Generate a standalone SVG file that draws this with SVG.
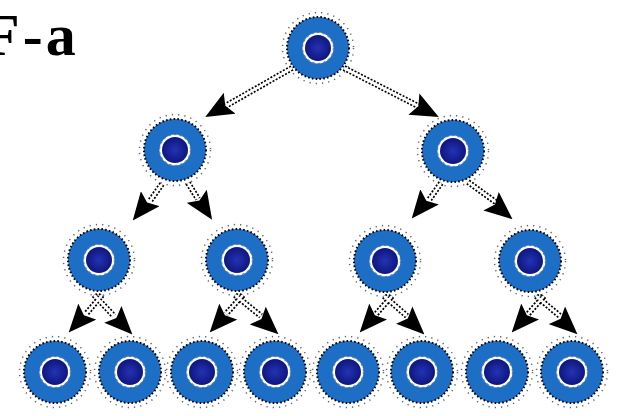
<svg xmlns="http://www.w3.org/2000/svg" width="617" height="416" viewBox="0 0 617 416">
  <style>
    .label { font-family: "Liberation Serif", "Times New Roman", serif; font-weight: bold; font-size: 60px; letter-spacing: 3px; fill: #000; }
    .shaft-edge { fill: none; stroke: #000; stroke-width: 6; stroke-dasharray: 2 1.6; }
    .shaft-core { fill: none; stroke: #fff; stroke-width: 2.6; }
    .shaft-tip { fill: none; stroke: none; marker-end: url(#head); }
  </style>
  <defs>
    <radialGradient id="coreFill" cx="0.5" cy="0.5" r="0.5">
      <stop offset="0" stop-color="#2433b4"/>
      <stop offset="1" stop-color="#0e167e"/>
    </radialGradient>
    <marker id="head" viewBox="0 0 28 24" refX="26" refY="12" markerWidth="28" markerHeight="24" markerUnits="userSpaceOnUse" orient="auto">
      <path d="M0,0 L28,12 L0,24 L5,12 z" fill="#000"/>
    </marker>
    <!-- one cell: speckled halo, blue ring, white ring, dark nucleus -->
    <g id="cell">
      <circle r="35.5" fill="none" stroke="#000" stroke-width="1.5" stroke-dasharray="1.3 5" opacity="0.6"/>
      <circle r="31" fill="#1d6fc6" stroke="#000" stroke-width="2" stroke-dasharray="1.6 2.2"/>
      <circle r="15.5" fill="#fff"/>
      <circle r="15.5" fill="none" stroke="#5a7fb8" stroke-width="1.2" stroke-dasharray="2.5 3"/>
      <circle r="13" fill="url(#coreFill)"/>
    </g>
  </defs>

  <rect width="617" height="416" fill="#fff"/>

  <text class="label" x="-17" y="55">F-a</text>

  <!-- cells, top to bottom -->
  <g id="n0"><use href="#cell" x="318" y="48"/></g>

  <g id="n1a"><use href="#cell" x="175" y="150"/></g>
  <g id="n1b"><use href="#cell" x="453" y="151"/></g>

  <g id="n2a"><use href="#cell" x="99" y="260"/></g>
  <g id="n2b"><use href="#cell" x="237" y="260"/></g>
  <g id="n2c"><use href="#cell" x="385" y="261"/></g>
  <g id="n2d"><use href="#cell" x="530" y="261"/></g>

  <g id="n3a"><use href="#cell" x="55" y="372"/></g>
  <g id="n3b"><use href="#cell" x="130" y="372"/></g>
  <g id="n3c"><use href="#cell" x="202" y="372"/></g>
  <g id="n3d"><use href="#cell" x="275" y="372"/></g>
  <g id="n3e"><use href="#cell" x="348" y="372"/></g>
  <g id="n3f"><use href="#cell" x="422" y="372"/></g>
  <g id="n3g"><use href="#cell" x="497" y="372"/></g>
  <g id="n3h"><use href="#cell" x="572" y="372"/></g>

  <!-- division arrows -->
  <g id="connectors">
    <g id="shafts">
      <path class="shaft-edge" d="M292,68 L222,108 M344,68 L422,108"/>
      <path class="shaft-core" d="M292,68 L222,108 M344,68 L422,108"/>
      <path class="shaft-edge" d="M162,184 L150,201 M188,183 L198,199 M441,183 L429,200 M468,182 L497,203"/>
      <path class="shaft-core" d="M162,184 L150,201 M188,183 L198,199 M441,183 L429,200 M468,182 L497,203"/>
      <path class="shaft-edge" d="M102,295 L86,314 M94,295 L114,316 M243,295 L226,314 M235,295 L261,316 M392,296 L376,314 M384,296 L407,316 M544,296 L528,314 M536,296 L560,316"/>
      <path class="shaft-core" d="M102,295 L86,314 M94,295 L114,316 M243,295 L226,314 M235,295 L261,316 M392,296 L376,314 M384,296 L407,316 M544,296 L528,314 M536,296 L560,316"/>
    </g>
    <g id="heads">
      <path class="shaft-tip" d="M292,68 L207,116"/>
      <path class="shaft-tip" d="M344,68 L437,116"/>
      <path class="shaft-tip" d="M162,184 L134,219"/>
      <path class="shaft-tip" d="M188,183 L211,218"/>
      <path class="shaft-tip" d="M441,183 L413,217"/>
      <path class="shaft-tip" d="M468,182 L511,218"/>
      <path class="shaft-tip" d="M102,295 L70,331"/>
      <path class="shaft-tip" d="M94,295 L131,333"/>
      <path class="shaft-tip" d="M243,295 L211,331"/>
      <path class="shaft-tip" d="M235,295 L277,333"/>
      <path class="shaft-tip" d="M392,296 L361,331"/>
      <path class="shaft-tip" d="M384,296 L423,333"/>
      <path class="shaft-tip" d="M544,296 L513,331"/>
      <path class="shaft-tip" d="M536,296 L576,333"/>
    </g>
  </g>
</svg>
